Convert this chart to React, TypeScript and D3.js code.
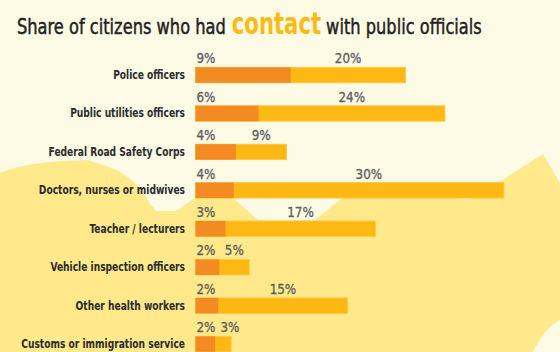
import React, { useEffect, useRef } from 'react';
import * as d3 from 'd3';

const W = 560;
const H = 352;

// share of citizens (%) - dark part = frequent contact, full bar = any contact
const categories = [
  'Police officers',
  'Public utilities officers',
  'Federal Road Safety Corps',
  'Doctors, nurses or midwives',
  'Teacher / lecturers',
  'Vehicle inspection officers',
  'Other health workers',
  'Customs or immigration service',
];
const frequentShare = [9.2, 6.1, 3.9, 3.7, 2.9, 2.3, 2.2, 1.9];
const anyShare = [20.3, 24.1, 8.8, 29.8, 17.4, 5.2, 14.7, 3.45];

const FONT = "'DejaVu Sans Condensed', 'DejaVu Sans', sans-serif";

// decorative hills behind the bars
const hillPath =
  'M0,173 C18,166 40,161 88,160 L100,164 C120,170 138,180 150,204 L156,211 L176,211 L198,196 ' +
  'L233,198 L258,220 L315,220 L342,198 L400,186 L455,195 C460,200 470,201 478,196 ' +
  'L543,154 L560,183 L560,320 C548,326 540,338 533,352 L0,352 Z';

// text squeezed horizontally to get the narrow DIN-like look
const squeezed = (parent: any, x: number, y: number, sx: number) =>
  parent.append('g')
    .attr('transform', `translate(${x},${y}) scale(${sx},1)`)
    .append('text')
    .style('font-family', FONT);

const App = () => {
  const svgRef = useRef<SVGSVGElement>(null);

  useEffect(() => {
    const svg = d3.select(svgRef.current);
    svg.selectAll('*').remove();

    svg.append('rect').attr('width', W).attr('height', H).attr('fill', '#FDFAE6');
    svg.append('path').attr('d', hillPath).attr('fill', '#FFE98B');

    // title in three pieces
    const titleSx = 0.86;
    const t1 = squeezed(svg, 17, 34, titleSx)
      .style('font-size', '21px')
      .attr('fill', '#231F20')
      .attr('stroke', '#231F20')
      .attr('stroke-width', 0.45)
      .text('Share of citizens who had');
    const x2 = 17 + (t1.node() as SVGTextElement).getComputedTextLength() * titleSx + 6;
    const contactSx = 0.76;
    const t2 = squeezed(svg, x2, 34, contactSx)
      .style('font-size', '31px')
      .style('font-weight', 700)
      .attr('fill', '#FDBA12')
      .text('contact');
    const x3 = x2 + (t2.node() as SVGTextElement).getComputedTextLength() * contactSx + 5;
    squeezed(svg, x3, 34, titleSx)
      .style('font-size', '21px')
      .attr('fill', '#231F20')
      .attr('stroke', '#231F20')
      .attr('stroke-width', 0.45)
      .text('with public officials');

    const x = d3.scaleLinear().domain([0, 30]).range([195.5, 506]);
    const y = d3.scaleBand().domain(categories).range([52, 52 + 38.43 * categories.length]);
    const barH = 15.5;
    const barTop = (c: string) => (y(c) as number) + 15.3;
    const fmt = (v: number) => `${Math.round(v)}%`;

    const bars = svg.append('g');

    bars.selectAll('rect.any')
      .data(categories)
      .join('rect')
      .attr('class', 'any')
      .attr('x', x(0))
      .attr('y', d => barTop(d))
      .attr('width', (d, i) => x(anyShare[i]) - x(0))
      .attr('height', barH)
      .attr('fill', '#FDB813')
      .attr('stroke', '#FFC94A')
      .attr('stroke-width', 0.8);

    bars.selectAll('rect.freq')
      .data(categories)
      .join('rect')
      .attr('class', 'freq')
      .attr('x', x(0))
      .attr('y', d => barTop(d))
      .attr('width', (d, i) => x(frequentShare[i]) - x(0))
      .attr('height', barH)
      .attr('fill', '#F48B22');

    // category labels
    categories.forEach(c => {
      squeezed(svg, 185, barTop(c) + barH / 2 + 4, 0.78)
        .attr('text-anchor', 'end')
        .style('font-size', '13px')
        .style('font-weight', 700)
        .attr('fill', '#2B2B2B')
        .text(c);
    });

    // value labels above the bars
    const valSx = 0.95;
    const valStyle = (s: any) => s
      .style('font-family', FONT)
      .style('font-size', '14px')
      .attr('fill', '#5E5E5E')
      .attr('stroke', '#5E5E5E')
      .attr('stroke-width', 0.3);

    categories.forEach((c, i) => {
      const ly = barTop(c) - 4;
      const first = squeezed(svg, x(0) + 1, ly, valSx)
        .call(valStyle)
        .text(fmt(frequentShare[i]));
      const firstW = (first.node() as SVGTextElement).getComputedTextLength() * valSx;

      const second = svg.append('g');
      const txt = second.append('text')
        .call(valStyle)
        .text(fmt(anyShare[i]));
      const w = (txt.node() as SVGTextElement).getComputedTextLength() * valSx;
      const mid = (x(frequentShare[i]) + x(anyShare[i])) / 2;
      const left = Math.max(mid - w / 2, x(0) + 1 + firstW + 5);
      second.attr('transform', `translate(${left},${ly}) scale(${valSx},1)`);
    });
  }, []);

  return (
    <svg
      ref={svgRef}
      width={W}
      height={H}
      style={{ position: 'absolute', left: 0, top: 0, display: 'block' }}
    />
  );
};

export default App;
